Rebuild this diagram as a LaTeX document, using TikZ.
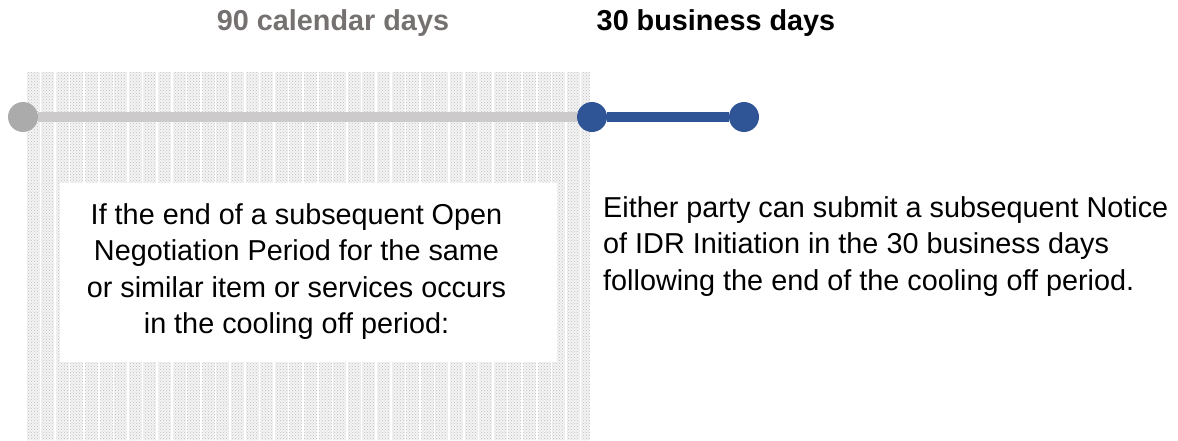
\documentclass[tikz,border=0pt]{standalone}
\usepackage{fontspec}
\setmainfont{Liberation Sans}
\usetikzlibrary{patterns}
\definecolor{titlegray}{RGB}{118,113,113}
\definecolor{linegray}{RGB}{204,202,202}
\definecolor{dotgray}{RGB}{171,171,171}
\definecolor{ibmblue}{RGB}{47,85,151}
\definecolor{texgray}{RGB}{190,190,190}
\tikzset{
  title/.style={font=\fontsize{28.8}{32}\selectfont\bfseries, anchor=center, inner sep=0pt},
  bodytext/.style={font=\fontsize{28.8}{36.5}\selectfont, inner sep=0pt},
  dotnode/.style={circle, minimum size=30pt, inner sep=0pt},
  barline/.style={line width=10.5pt},
}
\begin{document}
\begin{tikzpicture}[x=1pt,y=-1pt]
\useasboundingbox (0,0) rectangle (1178,440);
% textured background for the 90-day period
\fill[gray!9] (27,72) rectangle (590,440);
\fill[pattern=crosshatch dots, pattern color=texgray] (27,72) rectangle (590,440);
\foreach \i in {0,...,38} {
  \fill[white] ({27+14.6*\i+12.5},72) rectangle ({27+14.6*\i+14.2},440);
}
% white box
\fill[white] (60,183) rectangle (557,362);
\node[bodytext, align=center, anchor=north] (lefttext) at (296.5,203) {If the end of a subsequent Open\\Negotiation Period for the same\\or similar item or services occurs\\in the cooling off period:};
% timeline
\node[dotnode, fill=dotgray] (g1) at (23,117) {};
\node[dotnode, fill=ibmblue] (b1) at (592,117) {};
\node[dotnode, fill=ibmblue] (b2) at (744,117) {};
\draw[barline, linegray] (g1.east) -- (b1.west);
\draw[barline, ibmblue] (b1.east) -- (b2.west);
% titles
\node[title, text=titlegray] (t1) at (333,23) {90 calendar days};
\node[title, text=black] (t2) at (716,23) {30 business days};
% right text
\node[bodytext, align=left, anchor=north west] (righttext) at (603,196) {Either party can submit a subsequent Notice\\of IDR Initiation in the 30 business days\\following the end of the cooling off period.};
\end{tikzpicture}
\end{document}
